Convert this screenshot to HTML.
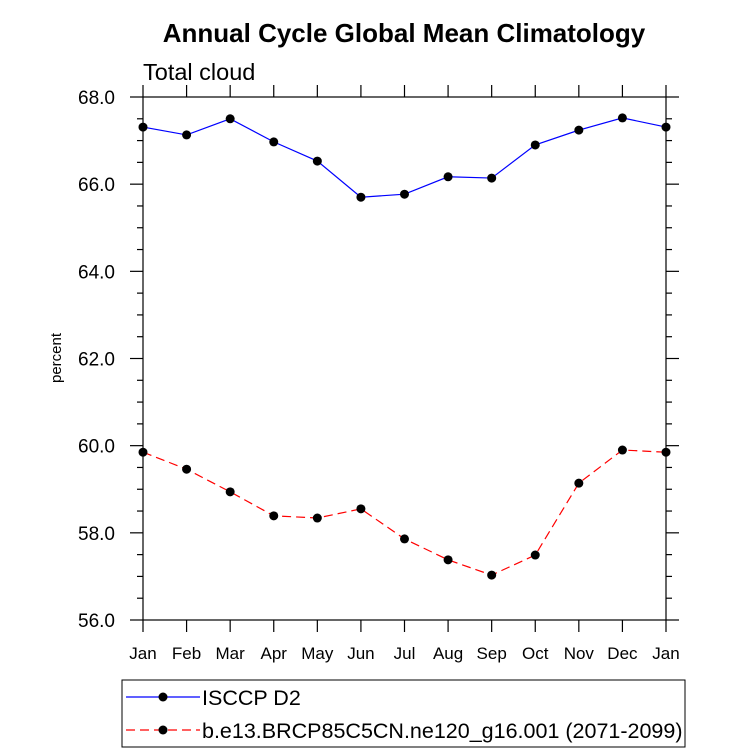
<!DOCTYPE html>
<html><head><meta charset="utf-8"><style>
body{margin:0;background:#fff;}
svg{display:block;font-family:"Liberation Sans",sans-serif;}
</style></head><body>
<svg id="chart" width="733" height="755">
<text x="404" y="42" text-anchor="middle" font-size="26" font-weight="bold">Annual Cycle Global Mean Climatology</text>
<text x="143" y="80" font-size="23.5">Total cloud</text>
<text transform="translate(61,358) rotate(-90)" text-anchor="middle" font-size="15">percent</text>
<rect x="143" y="97" width="523" height="523" fill="none" stroke="#000" stroke-width="1.2"/>
<g id="axes"></g>
<g id="series"></g>
<g>
<rect x="122" y="680" width="563" height="67" fill="none" stroke="#000" stroke-width="1"/>
<line x1="126" y1="697" x2="200" y2="697" stroke="#0000ff" stroke-width="1.2"/>
<circle cx="163" cy="697" r="4.5" fill="#000"/>
<text x="202" y="705" font-size="21.5">ISCCP D2</text>
<line x1="126" y1="730" x2="200" y2="730" stroke="#ff0000" stroke-width="1.2" stroke-dasharray="9,5"/>
<circle cx="163" cy="730" r="4.5" fill="#000"/>
<text x="202" y="738" font-size="21.5">b.e13.BRCP85C5CN.ne120_g16.001 (2071-2099)</text>
</g>
</svg>
<script>
const months=["Jan","Feb","Mar","Apr","May","Jun","Jul","Aug","Sep","Oct","Nov","Dec","Jan"];
const obsValues=[67.31,67.13,67.5,66.97,66.53,65.7,65.77,66.17,66.14,66.9,67.24,67.52,67.31];
const modelValues=[59.85,59.46,58.94,58.39,58.34,58.55,57.86,57.38,57.03,57.49,59.14,59.9,59.85];
const yTicks=[56,58,60,62,64,66,68];
const ns="http://www.w3.org/2000/svg";
const X0=143,X1=666,Y0=620,Y1=97,YMIN=56,YMAX=68;
function xs(i){return X0+(X1-X0)*i/12;}
function ys(v){return Y0-(v-YMIN)/(YMAX-YMIN)*(Y0-Y1);}
function mk(t,a,p){const e=document.createElementNS(ns,t);for(const k in a)e.setAttribute(k,a[k]);p.appendChild(e);return e;}
const ax=document.getElementById('axes');
months.forEach((m,i)=>{
 const x=xs(i);
 mk('line',{x1:x,y1:Y0,x2:x,y2:Y0+12,stroke:'#000','stroke-width':1.2},ax);
 mk('line',{x1:x,y1:Y1,x2:x,y2:Y1-12,stroke:'#000','stroke-width':1.2},ax);
 const t=mk('text',{x:x,y:659,'text-anchor':'middle','font-size':'17'},ax);
 t.textContent=m;
 
 
});
for(let v=YMIN;v<=YMAX+1e-6;v+=0.5){
 const y=ys(v);const major=Math.abs(v/2-Math.round(v/2))<1e-3;const L=major?13:6;
 mk('line',{x1:X0,y1:y,x2:X0-L,y2:y,stroke:'#000','stroke-width':1.2},ax);
 mk('line',{x1:X1,y1:y,x2:X1+L,y2:y,stroke:'#000','stroke-width':1.2},ax);
}
yTicks.forEach(v=>{
 const t=mk('text',{x:115,y:ys(v)+7,'text-anchor':'end','font-size':'19'},ax);
 t.textContent=v.toFixed(1);
 
 
});
const sg=document.getElementById('series');
function draw(vals,color,dash,name){
 const p=mk('polyline',{points:vals.map((v,i)=>xs(i)+','+ys(v)).join(' '),fill:'none',stroke:color,'stroke-width':1.2},sg);
 if(dash)p.setAttribute('stroke-dasharray',dash);
 
 
 vals.forEach((v,i)=>{
  const c=mk('circle',{cx:xs(i),cy:ys(v),r:4.5,fill:'#000'},sg);
  
  
 });
}
draw(obsValues,'#0000ff',null,'isccp');
draw(modelValues,'#ff0000','9,5','model');
</script>
</body></html>
